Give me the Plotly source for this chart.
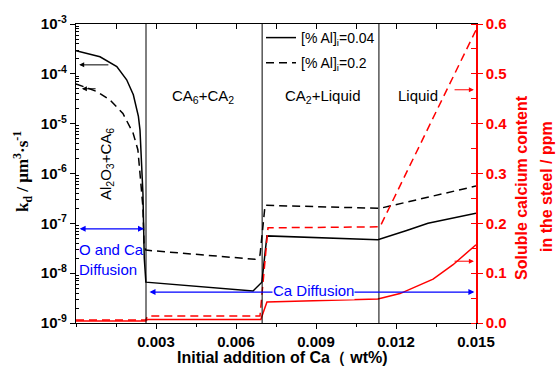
import plotly.graph_objects as go

# ---------------- data ----------------
# Initial addition of Ca (wt%)
x_solid = [0, 0.0009, 0.00153, 0.0019, 0.00215, 0.00234, 0.0024, 0.00251, 0.00256, 0.00262,
           0.00664, 0.00697, 0.00716, 0.01132, 0.0124, 0.0132, 0.015]
k_solid = [2.9e-4, 2.2e-4, 1.4e-4, 7.6e-5, 3.8e-5, 1.4e-5, 7.4e-6, 4.0e-7, 2.0e-8, 6.6e-9,
           4.4e-9, 6.6e-9, 5.6e-8, 4.7e-8, 7.2e-8, 1.0e-7, 1.6e-7]

x_dash = [0, 0.00079, 0.00127, 0.00176, 0.00214, 0.00232, 0.0024, 0.00251, 0.00255, 0.00262,
          0.00671, 0.0069, 0.00709, 0.0114, 0.015]
k_dash = [6.3e-5, 4.4e-5, 3.0e-5, 1.6e-5, 6.5e-6, 3.0e-6, 1.0e-6, 2.1e-7, 4.0e-8, 2.9e-8,
          1.9e-8, 2.3e-8, 2.3e-7, 2.0e-7, 5.6e-7]

x_ca_solid = [0, 0.00262, 0.00268, 0.00693, 0.00716, 0.01132, 0.01215, 0.0129, 0.01339,
              0.01414, 0.01462, 0.015]
ca_solid = [0.004, 0.004, 0.007, 0.007, 0.042, 0.048, 0.059, 0.076, 0.088, 0.117, 0.139, 0.157]

x_ca_dash = [0, 0.00262, 0.00268, 0.0069, 0.0072, 0.0114, 0.015]
ca_dash = [0.006, 0.006, 0.014, 0.014, 0.191, 0.193, 0.588]

phase_bounds = [0.002625, 0.00698, 0.01136]

x_ticks = [0.003, 0.006, 0.009, 0.012, 0.015]
x_ticklabels = ["0.003", "0.006", "0.009", "0.012", "0.015"]
y_exps = [-9, -8, -7, -6, -5, -4, -3]
y2_ticks = [0.0, 0.1, 0.2, 0.3, 0.4, 0.5, 0.6]

legend_names = ["[% Al]<sub>i</sub>=0.04", "[% Al]<sub>i</sub>=0.2"]

# ---------------- figure ----------------
W, H = 556, 373
L, R, T, B = 76, 80, 24, 50
pw, ph = W - L - R, H - T - B


def px(xp):
    return (xp - L) / pw


def py(yp):
    return (H - B - yp) / ph


fig = go.Figure()

fig.add_trace(go.Scatter(x=x_solid, y=k_solid, mode="lines", name=legend_names[0],
                         line=dict(color="black", width=1.5), legendgroup="a"))
fig.add_trace(go.Scatter(x=x_dash, y=k_dash, mode="lines", name=legend_names[1],
                         line=dict(color="black", width=1.5, dash="8px,5px"), legendgroup="b"))
fig.add_trace(go.Scatter(x=x_ca_solid, y=ca_solid, mode="lines", yaxis="y2", showlegend=False,
                         line=dict(color="red", width=1.5)))
fig.add_trace(go.Scatter(x=x_ca_dash, y=ca_dash, mode="lines", yaxis="y2", showlegend=False,
                         line=dict(color="red", width=1.5, dash="8px,5px")))

for xb in phase_bounds:
    fig.add_shape(type="line", xref="x", yref="paper", x0=xb, x1=xb, y0=0, y1=1,
                  line=dict(color="black", width=1), layer="above")

minor_vals = [m * 10 ** e for e in range(-9, -3) for m in range(2, 10)]

anns = []
# black arrows to left axis
anns.append(dict(x=0.00012, y=-3.82, ax=0.00127, ay=-3.82, xref="x", yref="y", axref="x", ayref="y",
                 text="", showarrow=True, arrowhead=2, arrowsize=1, arrowwidth=1, arrowcolor="black"))
anns.append(dict(x=0.00022, y=-4.30, ax=0.00079, ay=-4.30, xref="x", yref="y", axref="x", ayref="y",
                 text="", showarrow=True, arrowhead=2, arrowsize=1, arrowwidth=1, arrowcolor="black"))
# red arrows to right axis
anns.append(dict(x=0.01492, y=0.468, ax=0.01414, ay=0.468, xref="x", yref="y2", axref="x", ayref="y2",
                 text="", showarrow=True, arrowhead=2, arrowsize=1, arrowwidth=1, arrowcolor="red"))
anns.append(dict(x=0.01492, y=0.124, ax=0.01414, ay=0.124, xref="x", yref="y2", axref="x", ayref="y2",
                 text="", showarrow=True, arrowhead=2, arrowsize=1, arrowwidth=1, arrowcolor="red"))
# blue double arrows
anns.append(dict(x=0.00255, y=-7.11, ax=0.00008, ay=-7.11, xref="x", yref="y", axref="x", ayref="y",
                 text="", showarrow=True, arrowhead=2, startarrowhead=2, arrowside="end+start",
                 arrowsize=1, arrowwidth=1.2, arrowcolor="blue"))
anns.append(dict(x=0.01494, y=-8.38, ax=0.0027, ay=-8.38, xref="x", yref="y", axref="x", ayref="y",
                 text="", showarrow=True, arrowhead=2, startarrowhead=2, arrowside="end+start",
                 arrowsize=1, arrowwidth=1.2, arrowcolor="blue"))

txt_font = dict(family="Arial, Liberation Sans", size=15, color="black")
blue_font = dict(family="Arial, Liberation Sans", size=15, color="blue")


def label(xp, yp, text, font, xanchor="center", angle=0, **kw):
    d = dict(x=px(xp), y=py(yp), xref="paper", yref="paper", text=text, showarrow=False,
             font=font, xanchor=xanchor, yanchor="middle", textangle=angle)
    d.update(kw)
    return d


anns.append(label(313, 290, "Ca Diffusion", blue_font, bgcolor="white", borderpad=0))
anns.append(label(77, 250, "O and Ca", blue_font, xanchor="left"))
anns.append(label(77, 269, "Diffusion", blue_font, xanchor="left"))
anns.append(label(106, 164, "Al<sub>2</sub>O<sub>3</sub>+CA<sub>6</sub>", txt_font, angle=-90))
anns.append(label(203, 97, "CA<sub>6</sub>+CA<sub>2</sub>", txt_font))
anns.append(label(322, 97, "CA<sub>2</sub>+Liquid", txt_font))
anns.append(label(418, 96, "Liquid", txt_font))
# axis titles
anns.append(label(282, 358, "<b>Initial addition of Ca（ wt%)</b>",
                  dict(family="Arial, Liberation Sans", size=16, color="black")))
anns.append(label(22, 172, "<b>k<sub>d</sub> / μm<sup>3</sup>·s<sup>-1</sup></b>",
                  dict(family="Liberation Serif, Times New Roman", size=17, color="black"), angle=-90))
anns.append(label(521, 188, "<b>Soluble calcium content</b>",
                  dict(family="Arial, Liberation Sans", size=16, color="red"), angle=-90))
anns.append(label(546, 187, "<b>in the steel / ppm</b>",
                  dict(family="Arial, Liberation Sans", size=16, color="red"), angle=-90))

tick_font = dict(family="Arial, Liberation Sans", size=15, color="black")

fig.update_layout(
    width=W, height=H,
    margin=dict(l=L, r=R, t=T, b=B),
    paper_bgcolor="white", plot_bgcolor="white",
    showlegend=True,
    legend=dict(x=px(261), y=py(22), xanchor="left", yanchor="top", bgcolor="rgba(0,0,0,0)",
                font=dict(family="Arial, Liberation Sans", size=14, color="black"),
                itemwidth=30, tracegroupgap=4, traceorder="grouped"),
    annotations=anns,
    xaxis=dict(range=[0, 0.015], tickvals=x_ticks, ticktext=[f"<b>{t}</b>" for t in x_ticklabels],
               tickfont=tick_font, ticks="outside", ticklen=5, tickcolor="black",
               showline=True, linecolor="black", linewidth=1.2, showgrid=False, zeroline=False,
               minor=dict(ticks="outside", ticklen=3, dtick=0.0015, tick0=0, tickcolor="black", showgrid=False)),
    xaxis2=dict(overlaying="x", matches="x", side="top", range=[0, 0.015], showticklabels=False,
                tickvals=x_ticks, ticks="inside", ticklen=5, tickcolor="black",
                showline=True, linecolor="black", linewidth=1.2, showgrid=False, zeroline=False,
                minor=dict(ticks="inside", ticklen=5, dtick=0.0015, tick0=0, tickcolor="black", showgrid=False)),
    yaxis=dict(type="log", range=[-9, -3], tickvals=[10 ** e for e in y_exps],
               ticktext=[f"<b>10<sup>{e}</sup></b>" for e in y_exps],
               tickfont=tick_font, ticks="outside", ticklen=5, tickcolor="black",
               showline=True, linecolor="black", linewidth=1.2, showgrid=False, zeroline=False,
               minor=dict(ticks="inside", ticklen=3, tickmode="array", tickvals=minor_vals,
                          tickcolor="black", showgrid=False)),
    yaxis2=dict(overlaying="y", side="right", range=[0, 0.6], tickvals=y2_ticks,
                ticktext=[f"<b>{v:.1f}</b>" for v in y2_ticks],
                tickfont=dict(family="Arial, Liberation Sans", size=15, color="red"),
                ticks="outside", ticklen=5, tickcolor="red",
                showline=True, linecolor="red", linewidth=1.5, showgrid=False, zeroline=False,
                minor=dict(ticks="inside", ticklen=5, dtick=0.05, tick0=0, tickcolor="red", showgrid=False)),
)

# invisible trace to activate the top mirror axis
fig.add_trace(go.Scatter(x=[0, 0.015], y=[1e-9, 1e-9], xaxis="x2", mode="lines",
                         line=dict(width=0), showlegend=False, hoverinfo="skip"))

fig.write_html("out.html")
